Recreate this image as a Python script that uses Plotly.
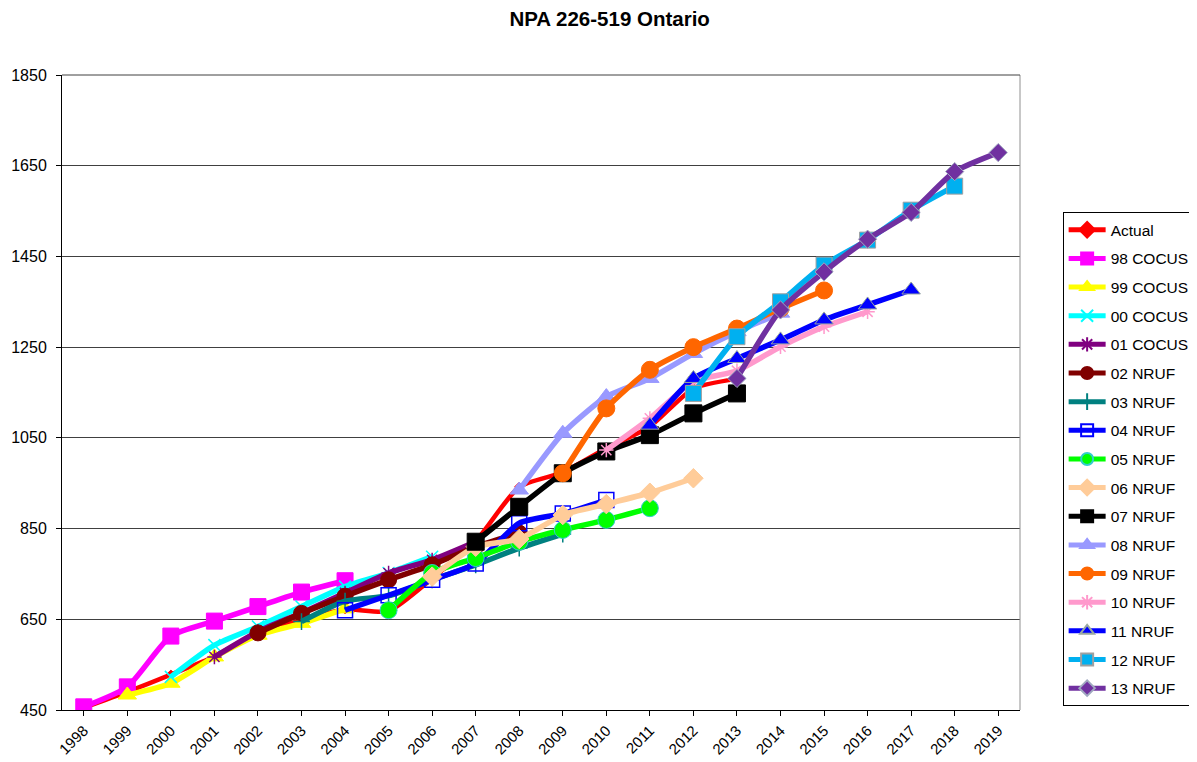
import plotly.graph_objects as go

years = [str(y) for y in range(1998, 2020)]
N = None

actual    = [455, 490, 528, 568, 620, 648, 672, 668, 740, 822, 942, 974, 1027, 1075, 1159, 1180, N, N, N, N, N, N]
cocus98   = [457, 501, 613, 646, 678, 710, 735, N, N, N, N, N, N, N, N, N, N, N, N, N, N, N]
cocus99   = [N, 483, 509, 567, 615, 641, 673, N, N, N, N, N, N, N, N, N, N, N, N, N, N, N]
cocus00   = [N, N, 523, 593, 634, 678, 722, 752, 788, N, N, N, N, N, N, N, N, N, N, N, N, N]
cocus01   = [N, N, N, 567, 623, 664, 708, 752, 781, 821, N, N, N, N, N, N, N, N, N, N, N, N]
nruf02    = [N, N, N, N, 620, 663, 701, 737, 770, 810, 840, N, N, N, N, N, N, N, N, N, N, N]
nruf03    = [N, N, N, N, N, 645, 690, 702, 737, 770, 807, 838, N, N, N, N, N, N, N, N, N, N]
nruf04    = [N, N, N, N, N, N, 670, 703, 737, 773, 862, 883, 913, N, N, N, N, N, N, N, N, N]
nruf05    = [N, N, N, N, N, N, N, 670, 752, 785, 821, 847, 869, 895, N, N, N, N, N, N, N, N]
nruf06    = [N, N, N, N, N, N, N, N, 744, 810, 827, 880, 904, 929, 961, N, N, N, N, N, N, N]
nruf07    = [N, N, N, N, N, N, N, N, N, 821, 898, 972, 1020, 1056, 1104, 1148, N, N, N, N, N, N]
nruf08    = [N, N, N, N, N, N, N, N, N, N, 935, 1060, 1141, 1181, 1236, 1284, 1325, N, N, N, N, N]
nruf09    = [N, N, N, N, N, N, N, N, N, N, N, 972, 1115, 1200, 1250, 1291, 1335, 1375, N, N, N, N]
nruf10    = [N, N, N, N, N, N, N, N, N, N, N, N, 1023, 1093, 1174, 1198, 1251, 1295, 1328, N, N, N]
nruf11    = [N, N, N, N, N, N, N, N, N, N, N, N, N, 1078, 1181, 1225, 1266, 1310, 1343, 1376, N, N]
nruf12    = [N, N, N, N, N, N, N, N, N, N, N, N, N, N, 1148, 1273, 1350, 1431, 1486, 1552, 1605, N]
nruf13    = [N, N, N, N, N, N, N, N, N, N, N, N, N, N, N, 1181, 1332, 1416, 1488, 1547, 1637, 1679]

series = [
    ("Actual", actual, "#FF0000", "diamond", 7, "#FF0000", 4.5),
    ("98 COCUS", cocus98, "#FF00FF", "square", 16, "#FF00FF", 5.5),
    ("99 COCUS", cocus99, "#FFFF00", "triangle-up", 16, "#FFFF00", 5.5),
    ("00 COCUS", cocus00, "#00FFFF", "x-thin-open", 12, "#00FFFF", 5.5),
    ("01 COCUS", cocus01, "#800080", "asterisk-open", 12, "#800080", 5.5),
    ("02 NRUF", nruf02, "#800000", "circle", 16, "#800000", 5.5),
    ("03 NRUF", nruf03, "#008080", "cross-thin-open", 12, "#008080", 5.5),
    ("04 NRUF", nruf04, "#0000FF", "square-open", 15, "#0000FF", 5.5),
    ("05 NRUF", nruf05, "#00FF00", "circle", 17, "#33CCCC", 5.5),
    ("06 NRUF", nruf06, "#FFCC99", "diamond", 15, "#FFCC99", 5.5),
    ("07 NRUF", nruf07, "#000000", "square", 17, "#000000", 5.5),
    ("08 NRUF", nruf08, "#9999FF", "triangle-up", 16, "#9999FF", 5.5),
    ("09 NRUF", nruf09, "#FF6600", "circle", 17, "#FF6600", 5.5),
    ("10 NRUF", nruf10, "#FF99CC", "asterisk-open", 12, "#FF99CC", 5.5),
    ("11 NRUF", nruf11, "#0000FF", "triangle-up", 16, "#99A8A0", 5.5),
    ("12 NRUF", nruf12, "#00B0F0", "square", 16, "#A0A0A0", 5.5),
    ("13 NRUF", nruf13, "#7030A0", "diamond", 14, "#A0A8C0", 5.5),
]

FONT = "Liberation Sans, Arial, sans-serif"

fig = go.Figure()
for i, (name, vals, color, sym, size, mline, lw) in enumerate(series):
    open_sym = sym.endswith("open")
    marker = dict(symbol=sym, size=size, color=color,
                  line=dict(color=mline if not open_sym else color, width=1 if not open_sym else 1.5))
    fig.add_trace(go.Scatter(
        x=years, y=vals, name=name, mode="lines+markers",
        line=dict(color=color, width=lw, shape="spline", smoothing=0.6),
        marker=marker, connectgaps=False, legendgroup="g%d" % i,
    ))

# page body has an 8px margin, so the figure is sized/placed to compensate
fig.update_layout(
    width=1189, height=754,
    paper_bgcolor="white", plot_bgcolor="white",
    margin=dict(l=54, r=177, t=67, b=52, autoexpand=False),
    font=dict(family=FONT, color="black"),
    title=dict(text="<b>NPA 226-519 Ontario</b>", x=0.506, xanchor="center", y=0.986, yanchor="middle",
               font=dict(size=20.5, family=FONT, color="black")),
    showlegend=True,
    legend=dict(x=1.0445, xanchor="left", y=0.784, yanchor="top",
                bordercolor="black", borderwidth=1, bgcolor="white",
                font=dict(size=15.5, family=FONT),
                tracegroupgap=5.5, itemwidth=37, itemsizing="constant"),
)
fig.update_xaxes(type="category", range=[-0.5, 21.5], tickangle=-45, showgrid=False,
                 showline=True, linecolor="black", linewidth=1, mirror=False,
                 ticks="outside", ticklen=5, tickcolor="black",
                 tickfont=dict(size=15, family=FONT))
fig.update_yaxes(range=[450, 1850], dtick=200, tick0=450, showgrid=True, gridcolor="#404040", gridwidth=1,
                 showline=True, linecolor="black", linewidth=1, ticks="outside", ticklen=5,
                 tickcolor="black", zeroline=False, ticklabelstandoff=6,
                 tickfont=dict(size=16, family=FONT))
fig.add_shape(type="line", xref="paper", yref="paper", x0=1, x1=1, y0=0, y1=1,
              line=dict(color="#909090", width=1))
fig.add_shape(type="line", xref="paper", yref="paper", x0=0, x1=1, y0=1, y1=1,
              line=dict(color="#404040", width=1))
fig.write_html("out.html")
